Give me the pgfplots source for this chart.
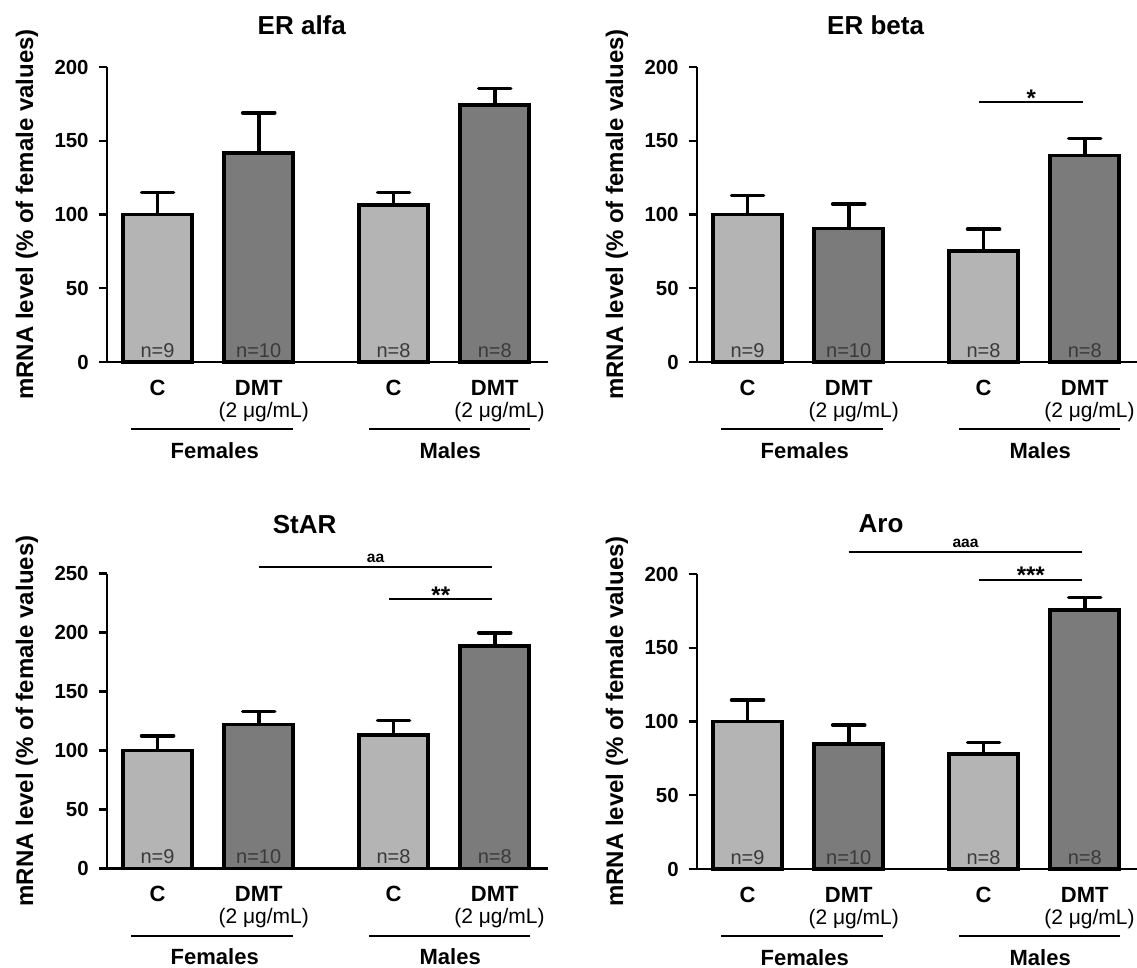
\documentclass[border=0pt]{standalone}
\usepackage{fontspec}
\setmainfont{Liberation Sans}
\usepackage{pgfplots}
\pgfplotsset{compat=1.18}
\definecolor{barlight}{HTML}{B4B4B4}
\definecolor{bardark}{HTML}{7B7B7B}
\definecolor{ntext}{HTML}{3A3A3A}
\pgfplotsset{
  panel/.style={
    scale only axis, width=220.5pt, height=147.5pt,
    anchor=south west,
    axis lines=left, axis line style={-, line width=1.2pt, black},
    xmin=0.5, xmax=4.86, ymin=0,
    xtick={1,2,3.3333,4.3333},
    xticklabels={C,DMT,C,DMT},
    major x tick style={draw=none},
    xticklabel style={font=\bfseries\fontsize{11}{13}\selectfont, inner sep=0pt, yshift=-4.6pt},
    major y tick style={line width=1.2pt, black},
    tick align=outside, major tick length=4.2pt,
    yticklabel style={font=\bfseries\fontsize{10.2}{12}\selectfont, inner sep=0pt, xshift=-4.8pt},
    /pgf/number format/assume math mode=true,
    clip=false,
  },
  bars/.style={ybar, bar width=0.684, bar shift=0pt, draw=black, line width=1.9pt,
    error bars/.cd, y dir=plus, y explicit,
    error bar style={line width=1.8pt, black},
    error mark options={rotate=90, line width=1.8pt, mark size=8pt, black, line cap=round}},
}
\tikzset{
  nlab/.style={anchor=base, yshift=2.4pt, font=\fontsize{10}{12}\selectfont, text=ntext, inner sep=0pt},
  conc/.style={anchor=center, yshift=-24.8pt, font=\fontsize{10.5}{12}\selectfont, inner sep=0pt},
  grp/.style={yshift=-44.3pt, font=\bfseries\fontsize{11}{13}\selectfont, inner sep=0pt},
  ttl/.style={font=\bfseries\fontsize{13}{15}\selectfont, inner sep=0pt},
  ylab/.style={xshift=-40pt, rotate=90, anchor=center, font=\bfseries\fontsize{12}{14}\selectfont, inner sep=0pt},
  sigline/.style={line width=1pt, black},
  star/.style={anchor=base, inner sep=0pt, font=\bfseries\fontsize{12}{14}\selectfont},
  aset/.style={anchor=base, inner sep=0pt, font=\bfseries\fontsize{7.8}{9}\selectfont},
}
\newcommand{\groupann}{%
  \node[nlab] at (axis cs:1,0) {n=9};
  \node[nlab] at (axis cs:2,0) {n=10};
  \node[nlab] at (axis cs:3.3333,0) {n=8};
  \node[nlab] at (axis cs:4.3333,0) {n=8};
  \node[conc] at (axis cs:2.05,0) {(2 μg/mL)};
  \node[conc] at (axis cs:4.38,0) {(2 μg/mL)};
  \draw[line width=1pt, yshift=-33.5pt] (axis cs:0.742,0) -- (axis cs:2.341,0);
  \draw[line width=1pt, yshift=-33.5pt] (axis cs:3.091,0) -- (axis cs:4.68,0);
  \node[grp] at (axis cs:1.565,0) {Females};
  \node[grp] at (axis cs:3.893,0) {Males};
  \node[ylab] at (rel axis cs:0,0.5) {mRNA level (\% of female values)};
}
\begin{document}
\begin{tikzpicture}
\useasboundingbox (0,0) rectangle (568.5pt,-484pt);
% ER alfa
\begin{axis}[panel, at={(53.5pt,-181pt)}, ymax=200, ytick={0,50,100,150,200}]
\addplot[fill=barlight, bars] coordinates {(1,100) +- (0,15) (3.3333,106.5) +- (0,8.5)};
\addplot[fill=bardark, bars] coordinates {(2,141.5) +- (0,27.5) (4.3333,174) +- (0,11.5)};
\groupann
\end{axis}
\node[ttl] at (150.9pt,-12.5pt) {ER alfa};
% ER beta
\begin{axis}[panel, at={(348.5pt,-181pt)}, ymax=200, ytick={0,50,100,150,200}]
\addplot[fill=barlight, bars] coordinates {(1,100) +- (0,13) (3.3333,75) +- (0,15)};
\addplot[fill=bardark, bars] coordinates {(2,90.5) +- (0,16.5) (4.3333,140) +- (0,11.5)};
\groupann
\draw[sigline] (axis cs:3.29,176) -- (axis cs:4.32,176);
\node[star, yshift=-2.2pt] at (axis cs:3.805,176) {*};
\end{axis}
\node[ttl] at (437.8pt,-12.5pt) {ER beta};
% StAR
\begin{axis}[panel, at={(53.5pt,-434.25pt)}, ymax=250, ytick={0,50,100,150,200,250}]
\addplot[fill=barlight, bars] coordinates {(1,100) +- (0,12.5) (3.3333,113) +- (0,12.5)};
\addplot[fill=bardark, bars] coordinates {(2,122) +- (0,11) (4.3333,188.5) +- (0,11.3)};
\groupann
\draw[sigline] (axis cs:2,255.4) -- (axis cs:4.31,255.4);
\node[aset, yshift=2.2pt] at (axis cs:3.155,255.4) {aa};
\draw[sigline] (axis cs:3.29,228.8) -- (axis cs:4.31,228.8);
\node[star, yshift=-2.4pt] at (axis cs:3.8,228.8) {**};
\end{axis}
\node[ttl] at (152.3pt,-262.5pt) {StAR};
% Aro
\begin{axis}[panel, at={(348.5pt,-434.5pt)}, ymax=200, ytick={0,50,100,150,200}]
\addplot[fill=barlight, bars] coordinates {(1,100) +- (0,14.5) (3.3333,77.7) +- (0,8)};
\addplot[fill=bardark, bars] coordinates {(2,85) +- (0,12.5) (4.3333,175.5) +- (0,8.5)};
\groupann
\draw[sigline] (axis cs:2,215.2) -- (axis cs:4.31,215.2);
\node[aset, yshift=2.2pt] at (axis cs:3.155,215.2) {aaa};
\draw[sigline] (axis cs:3.29,195.9) -- (axis cs:4.31,195.9);
\node[star, yshift=-1.9pt] at (axis cs:3.8,195.9) {***};
\end{axis}
\node[ttl] at (440.5pt,-262pt) {Aro};
\end{tikzpicture}
\end{document}
